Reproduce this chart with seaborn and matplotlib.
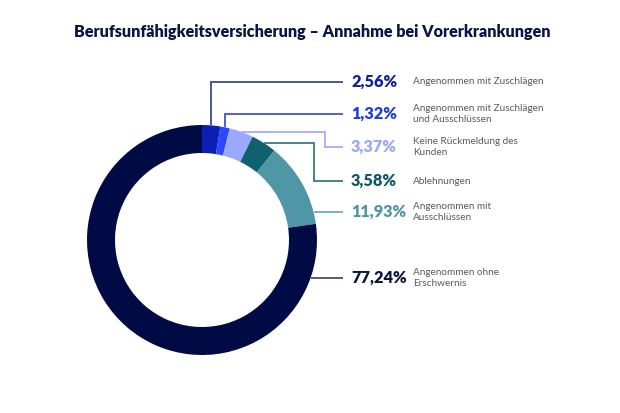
import matplotlib
matplotlib.use("Agg")
import matplotlib.pyplot as plt
import seaborn as sns
import numpy as np

# ---- data ----
labels = ["Angenommen mit Zuschlägen",
          "Angenommen mit Zuschlägen\nund Ausschlüssen",
          "Keine Rückmeldung des\nKunden",
          "Ablehnungen",
          "Angenommen mit\nAusschlüssen",
          "Angenommen ohne\nErschwernis"]
values = [2.56, 1.32, 3.37, 3.58, 11.93, 77.24]
value_labels = ["2,56%", "1,32%", "3,37%", "3,58%", "11,93%", "77,24%"]
colors = ["#0b1fb4", "#2a48ff", "#9ba8ff", "#0f6170", "#4f96a6", "#000a45"]
text_colors = ["#10209a", "#1e3de0", "#9aa6ff", "#0f5866", "#4f95a4", "#0a1445"]
line_colors = ["#2a3a8a", "#2f47c8", "#9aa6ff", "#2f6d78", "#6aa3b0", "#3a4060"]
title = "Berufsunfähigkeitsversicherung – Annahme bei Vorerkrankungen"

sns.set_theme(style="white")
plt.rcParams["font.family"] = ["Lato", "DejaVu Sans"]

W, H = 620, 413
fig = plt.figure(figsize=(W / 100, H / 100), dpi=100)
ax = fig.add_axes([0, 0, 1, 1])
ax.set_xlim(0, W)
ax.set_ylim(0, H)
ax.axis("off")

def Y(y):
    return H - y

cx, cy, R = 202, 240, 115
wedges, _ = ax.pie(values, colors=colors, startangle=90, counterclock=False,
                   radius=R, center=(cx, Y(cy)),
                   wedgeprops=dict(width=28, linewidth=0))
ax.set_xlim(0, W)
ax.set_ylim(0, H)
ax.set_aspect("equal")

# label layout (pixels)
label_y = [82, 114, 147, 181, 212, 278]
line_end = 343
pct_x = 351
desc_x = 413

for i, w in enumerate(wedges):
    ang = np.deg2rad((w.theta1 + w.theta2) / 2)
    ex = cx + R * np.cos(ang)
    ey = cy - R * np.sin(ang)
    ly = label_y[i]
    if i < 2:
        xs = [ex, ex, line_end]
        ys = [ey, ly, ly]
    elif i < 4:
        turn = [325, 314][i - 2]
        xs = [ex, turn, turn, line_end]
        ys = [ey, ey, ly, ly]
    else:
        sx = cx + np.sqrt(R ** 2 - (ly - cy) ** 2)
        xs = [sx, line_end]
        ys = [ly, ly]
    ax.plot(xs, [Y(v) for v in ys], color=line_colors[i], lw=1.2,
            solid_joinstyle="miter", solid_capstyle="butt")
    ax.text(pct_x, Y(ly), value_labels[i], color=text_colors[i], fontsize=11.8,
            fontweight="heavy", ha="left", va="center")
    ax.text(desc_x, Y(ly), labels[i], color="#5a5a5a", fontsize=7.2,
            ha="left", va="center", linespacing=1.25)

ax.text(W / 2 + 2, Y(32), title, color="#0a1445", fontsize=11.6, fontweight="heavy",
        ha="center", va="center")

fig.savefig("out.png", dpi=100)
